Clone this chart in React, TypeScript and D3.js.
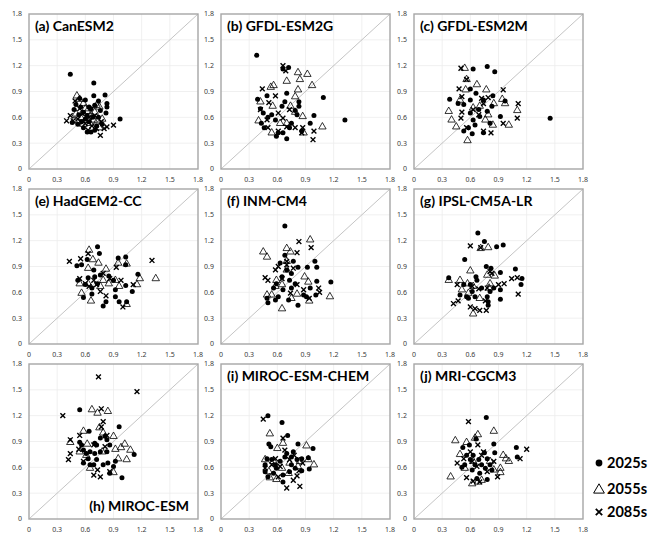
import * as d3 from 'd3';

type Pt = [number, number];

const models = [
  '(a) CanESM2', '(b) GFDL-ESM2G', '(c) GFDL-ESM2M',
  '(e) HadGEM2-CC', '(f) INM-CM4', '(g) IPSL-CM5A-LR',
  '(h) MIROC-ESM', '(i) MIROC-ESM-CHEM', '(j) MRI-CGCM3'
];

const ticks = [0, 0.3, 0.6, 0.9, 1.2, 1.5, 1.8];
const tickLabels = ['0', '0.3', '0.6', '0.9', '1.2', '1.5', '1.8'];

const periods = ['2025s', '2055s', '2085s'];

// one list of points per model, same order as `models`
const pts2025: Pt[][] = [
  [[0.44,1.10],[0.69,1.00],[0.69,0.85],[0.81,0.86],[0.97,0.58],[0.83,0.76],[0.83,0.72],[0.82,0.65],[0.48,0.69],[0.50,0.75],[0.53,0.63],[0.55,0.72],[0.58,0.66],[0.60,0.58],[0.62,0.62],[0.64,0.55],[0.66,0.70],[0.70,0.74],[0.74,0.79],[0.76,0.68],[0.58,0.48],[0.62,0.43],[0.66,0.43],[0.70,0.45],[0.72,0.50],[0.56,0.55],[0.46,0.54],[0.52,0.52],[0.60,0.80],[0.68,0.60],[0.74,0.60],[0.78,0.52],[0.64,0.72],[0.54,0.82]],
  [[0.38,1.32],[0.72,1.18],[0.66,1.16],[1.09,0.83],[1.32,0.57],[0.99,0.62],[0.83,0.78],[0.83,0.73],[0.70,0.88],[0.39,0.81],[0.49,0.85],[0.70,0.35],[0.59,0.38],[0.61,0.42],[0.66,0.42],[0.46,0.48],[0.43,0.53],[0.50,0.60],[0.54,0.63],[0.65,0.73],[0.68,0.78],[0.75,0.53],[0.81,0.63],[0.86,0.44],[0.95,0.53],[0.73,0.48],[0.42,0.70],[0.45,0.65],[0.79,0.68],[0.58,0.57]],
  [[0.78,1.19],[0.86,1.13],[0.63,1.16],[1.45,0.59],[0.38,0.81],[0.60,0.93],[0.66,0.88],[0.97,0.79],[0.92,0.61],[0.84,0.85],[0.81,0.53],[0.74,0.42],[0.62,0.41],[0.53,0.44],[0.58,0.48],[0.63,0.57],[0.60,0.65],[0.69,0.69],[0.53,0.75],[0.47,0.76],[0.74,0.80],[0.78,0.67],[0.83,0.73],[0.65,0.51],[0.70,0.61],[0.60,0.80]],
  [[0.73,1.13],[0.75,1.05],[0.62,0.98],[0.51,0.91],[0.56,0.92],[0.95,1.00],[1.03,1.01],[1.03,0.92],[1.16,0.81],[1.10,0.61],[1.03,0.68],[1.04,0.49],[0.92,0.55],[0.96,0.49],[0.82,0.49],[0.79,0.44],[0.67,0.58],[0.58,0.54],[0.52,0.74],[0.63,0.77],[0.70,0.78],[0.76,0.80],[0.85,0.79],[0.90,0.74],[0.69,0.86],[0.73,0.70],[0.60,0.69],[0.92,0.63],[0.67,0.65]],
  [[0.68,1.37],[0.68,1.03],[0.77,0.96],[1.00,0.96],[1.02,0.89],[0.92,0.89],[0.82,0.89],[1.17,0.72],[1.02,0.73],[0.95,0.65],[1.01,0.57],[0.91,0.55],[0.82,0.45],[0.72,0.51],[0.61,0.55],[0.58,0.51],[0.50,0.48],[0.49,0.53],[0.56,0.65],[0.59,0.70],[0.65,0.78],[0.75,0.82],[0.63,0.94],[0.70,0.86],[0.79,0.70],[0.88,0.57],[0.75,0.65],[0.66,0.63],[0.73,0.74]],
  [[0.68,1.29],[0.75,1.19],[0.95,1.15],[0.88,1.13],[0.54,0.98],[0.37,0.77],[1.08,0.87],[1.15,0.76],[1.14,0.69],[0.92,0.83],[0.77,0.90],[0.82,0.88],[0.66,0.78],[0.67,0.74],[0.60,0.69],[0.62,0.61],[0.56,0.55],[0.49,0.57],[0.53,0.69],[0.81,0.61],[0.85,0.65],[0.92,0.63],[0.92,0.52],[0.79,0.49],[0.79,0.45],[0.65,0.55],[0.58,0.53],[0.72,0.65],[0.78,0.55]],
  [[0.54,1.27],[0.64,1.02],[0.96,1.07],[1.12,0.75],[0.99,0.48],[0.54,0.89],[0.56,0.86],[0.58,0.80],[0.65,0.78],[0.70,0.88],[0.72,0.86],[0.76,0.94],[0.81,0.96],[0.83,0.92],[0.86,0.86],[0.83,0.78],[0.76,0.78],[0.70,0.76],[0.63,0.70],[0.58,0.65],[0.65,0.63],[0.72,0.69],[0.79,0.63],[0.84,0.65],[0.92,0.67],[0.90,0.61],[0.86,0.53],[0.69,0.63],[0.61,0.76]],
  [[0.50,1.20],[0.65,1.12],[0.71,0.97],[0.51,0.87],[0.53,0.84],[0.82,0.87],[0.98,0.82],[0.93,0.71],[0.94,0.58],[0.86,0.56],[0.75,0.63],[0.73,0.55],[0.66,0.43],[0.66,0.51],[0.59,0.59],[0.56,0.53],[0.47,0.55],[0.47,0.63],[0.49,0.70],[0.54,0.69],[0.63,0.67],[0.68,0.72],[0.75,0.72],[0.81,0.69],[0.77,0.78],[0.70,0.76],[0.58,0.63],[0.79,0.59],[0.86,0.70],[0.50,0.49]],
  [[0.77,1.18],[0.66,0.93],[0.85,0.87],[0.52,0.83],[0.59,0.86],[1.09,0.83],[0.86,0.77],[0.75,0.77],[1.10,0.72],[0.78,0.46],[0.67,0.47],[0.54,0.63],[0.51,0.60],[0.60,0.69],[0.63,0.74],[0.69,0.69],[0.72,0.63],[0.76,0.59],[0.81,0.63],[0.65,0.63],[0.62,0.57],[0.70,0.53],[0.56,0.74],[0.78,0.70],[0.83,0.57]]
];

const pts2055: Pt[][] = [
  [[0.51,0.85],[0.54,0.81],[0.58,0.76],[0.72,0.74],[0.75,0.72],[0.50,0.64],[0.55,0.60],[0.62,0.67],[0.69,0.57],[0.73,0.56],[0.75,0.48],[0.65,0.53],[0.58,0.52],[0.48,0.56],[0.66,0.63],[0.60,0.70],[0.78,0.58],[0.70,0.66]],
  [[0.82,1.12],[0.92,1.10],[0.84,1.04],[0.70,1.02],[0.97,0.97],[0.79,0.84],[0.82,0.92],[0.56,0.97],[0.53,0.95],[0.42,0.78],[0.55,0.73],[0.74,0.73],[0.79,0.66],[0.87,0.61],[1.08,0.49],[0.88,0.42],[0.54,0.42],[0.63,0.53],[0.40,0.56],[0.70,0.53]],
  [[0.54,1.17],[0.56,1.04],[0.67,0.98],[0.77,0.92],[0.55,0.92],[0.37,0.67],[0.40,0.57],[0.45,0.49],[0.57,0.33],[0.84,0.51],[1.01,0.51],[1.10,0.68],[0.94,0.81],[0.85,0.76],[0.97,0.76],[0.76,0.57],[0.63,0.71],[0.79,0.63],[0.49,0.80],[0.70,0.73]],
  [[0.64,1.09],[0.68,0.98],[0.74,0.94],[0.63,0.88],[0.95,0.94],[1.04,0.93],[1.18,0.76],[1.35,0.76],[1.15,0.69],[0.96,0.67],[0.82,0.87],[0.66,0.50],[0.56,0.59],[0.54,0.70],[0.63,0.70],[0.76,0.67],[0.85,0.70],[0.92,0.74],[0.79,0.74],[1.04,0.46]],
  [[0.95,1.21],[0.45,1.07],[0.49,1.01],[0.70,1.11],[0.74,1.07],[0.70,0.96],[0.70,0.86],[0.89,0.78],[0.93,0.72],[1.16,0.55],[0.81,0.58],[0.65,0.41],[0.54,0.57],[0.49,0.57],[0.59,0.74],[0.65,0.69],[0.94,0.50],[0.75,0.53],[0.58,0.67]],
  [[0.79,1.12],[0.71,1.11],[0.60,0.85],[0.37,0.74],[0.49,0.74],[0.57,0.70],[0.63,0.67],[0.78,0.80],[0.81,0.70],[0.86,0.79],[0.63,0.35],[0.70,0.53],[0.51,0.63],[0.80,0.65],[0.58,0.59]],
  [[0.67,1.27],[0.73,1.23],[0.84,1.25],[0.58,1.02],[0.75,1.06],[0.79,1.00],[0.90,0.96],[0.44,0.89],[1.02,0.87],[0.98,0.83],[0.92,0.81],[1.08,0.80],[1.04,0.69],[0.95,0.70],[0.62,0.87],[0.54,0.78],[0.61,0.74],[0.78,0.78],[0.65,0.59],[0.90,0.54]],
  [[0.52,0.99],[0.66,0.88],[0.60,0.82],[0.91,0.85],[0.93,0.69],[0.99,0.63],[0.84,0.67],[0.56,0.67],[0.51,0.55],[0.52,0.48],[0.59,0.46],[0.65,0.59],[0.72,0.53],[0.82,0.61],[0.47,0.69],[0.73,0.65]],
  [[0.85,1.02],[0.68,0.98],[0.65,0.94],[0.44,0.91],[0.56,0.89],[0.39,0.49],[0.95,0.74],[0.98,0.70],[1.01,0.67],[0.92,0.59],[0.92,0.54],[0.85,0.57],[0.68,0.43],[0.62,0.41],[0.72,0.45],[0.49,0.75],[0.54,0.59],[0.63,0.67],[0.81,0.67]]
];

const pts2085: Pt[][] = [
  [[0.40,0.56],[0.47,0.56],[0.49,0.79],[0.76,0.39],[0.83,0.49],[0.90,0.51],[0.80,0.47],[0.72,0.47],[0.63,0.45],[0.57,0.64],[0.52,0.58],[0.67,0.50],[0.60,0.53],[0.70,0.62],[0.54,0.70],[0.64,0.60],[0.77,0.55],[0.44,0.62]],
  [[0.66,1.20],[0.69,1.14],[0.44,0.93],[0.58,0.85],[0.51,0.77],[0.42,0.69],[0.49,0.57],[0.50,0.48],[0.61,0.44],[0.70,0.49],[0.79,0.48],[0.87,0.48],[0.99,0.44],[0.98,0.34],[0.61,0.65],[0.66,0.59],[0.86,0.42],[0.73,0.69]],
  [[0.50,1.17],[0.56,1.04],[0.48,0.93],[0.51,0.84],[0.95,0.92],[1.11,0.76],[1.10,0.59],[0.95,0.53],[0.82,0.42],[0.74,0.44],[0.56,0.48],[0.50,0.59],[0.51,0.66],[0.72,0.82],[0.79,0.83],[0.74,0.76],[0.63,0.69],[0.69,0.63]],
  [[0.43,0.96],[0.55,0.99],[0.63,1.05],[0.93,0.89],[1.31,0.97],[1.11,0.69],[1.00,0.43],[0.82,0.56],[0.76,0.61],[0.54,0.76],[0.60,0.70],[0.72,0.69],[0.86,0.76],[0.79,0.82],[0.98,0.74],[0.69,0.74],[0.64,0.67]],
  [[0.83,1.19],[0.96,1.12],[0.81,1.06],[0.58,0.86],[0.61,0.90],[0.70,0.96],[0.70,0.92],[0.47,0.77],[0.50,0.74],[0.81,0.69],[0.88,0.63],[1.04,0.65],[1.05,0.60],[0.94,0.53],[0.74,0.59],[0.65,0.76],[0.77,0.88]],
  [[0.60,1.14],[0.71,1.12],[0.46,0.69],[0.42,0.47],[0.47,0.50],[0.60,0.43],[0.65,0.41],[0.70,0.39],[0.77,0.39],[0.83,0.82],[0.81,0.84],[0.90,0.69],[0.96,0.70],[1.04,0.76],[1.10,0.77],[1.11,0.58],[0.78,0.65],[0.69,0.64],[0.62,0.67],[0.76,0.50]],
  [[0.74,1.65],[1.15,1.48],[0.36,1.20],[0.44,0.92],[0.44,0.76],[0.42,0.69],[0.54,0.97],[0.53,0.81],[0.77,1.28],[0.79,1.13],[0.77,1.07],[0.83,0.97],[0.69,0.51],[0.76,0.49],[0.73,0.57],[0.58,0.67],[0.86,0.55],[0.81,0.84],[0.69,0.86]],
  [[0.45,1.16],[0.66,0.94],[0.68,0.80],[0.70,0.36],[0.84,0.38],[0.77,0.45],[0.83,0.56],[0.87,0.65],[0.78,0.74],[0.63,0.61],[0.47,0.59],[0.54,0.63],[0.58,0.70],[0.73,0.69],[0.81,0.50],[0.61,0.49]],
  [[0.58,1.13],[0.68,0.86],[1.20,0.81],[1.13,0.70],[0.46,0.65],[0.56,0.48],[0.63,0.44],[0.70,0.43],[0.89,0.49],[0.85,0.67],[0.74,0.78],[0.60,0.78],[0.53,0.70],[0.67,0.61],[0.78,0.55],[0.72,0.74],[0.62,0.67]]
];

const colLeft = [29, 221, 414];
const rowTop = [14, 189, 364];
const pw = 169;
const ph = 155;
const tickFont = '"Noto Sans", sans-serif';
const titleFont = 'Lato, "Open Sans", sans-serif';

const x = d3.scaleLinear().domain([0, 1.8]).range([0, pw]);
const y = d3.scaleLinear().domain([0, 1.8]).range([ph, 0]);

const triPath = d3.symbol().type(d3.symbolTriangle).size(24)() as string;

function Cross({ cx, cy, r = 2.4, w = 1.4 }: { cx: number; cy: number; r?: number; w?: number }) {
  return (
    <path
      d={`M${cx - r},${cy - r}L${cx + r},${cy + r}M${cx - r},${cy + r}L${cx + r},${cy - r}`}
      stroke="#000"
      strokeWidth={w}
    />
  );
}

function Panel({ i }: { i: number }) {
  const left = colLeft[i % 3];
  const top = rowTop[Math.floor(i / 3)];
  const bottomTitle = i === 6;
  return (
    <g transform={`translate(${left},${top})`}>
      {ticks.slice(1, -1).map((t) => (
        <g key={t}>
          <line x1={x(t)} x2={x(t)} y1={0} y2={ph} stroke="#ececec" strokeWidth={0.8} />
          <line x1={0} x2={pw} y1={y(t)} y2={y(t)} stroke="#ececec" strokeWidth={0.8} />
        </g>
      ))}
      <line x1={x(0)} y1={y(0)} x2={x(1.8)} y2={y(1.8)} stroke="#bdbdbd" strokeWidth={0.9} />
      <rect x={0} y={0} width={pw} height={ph} fill="none" stroke="#a6a6a6" strokeWidth={1.4} />
      {ticks.map((t, k) => (
        <text
          key={'y' + t}
          x={-7}
          y={y(t)}
          dy="0.35em"
          textAnchor="end"
          fontSize={7}
          fontFamily={tickFont}
          fill="#3a3a3a"
        >
          {tickLabels[k]}
        </text>
      ))}
      {ticks.map((t, k) => (
        <text
          key={'x' + t}
          x={x(t)}
          y={ph + 13}
          textAnchor="middle"
          fontSize={7}
          fontFamily={tickFont}
          fill="#3a3a3a"
        >
          {tickLabels[k]}
        </text>
      ))}
      {pts2025[i].map((p, k) => (
        <circle key={'c' + k} cx={x(p[0])} cy={y(p[1])} r={2.5} fill="#000" />
      ))}
      {pts2055[i].map((p, k) => (
        <path
          key={'t' + k}
          d={triPath}
          transform={`translate(${x(p[0])},${y(p[1])})`}
          fill="none"
          stroke="#000"
          strokeWidth={0.8}
        />
      ))}
      {pts2085[i].map((p, k) => (
        <Cross key={'x' + k} cx={x(p[0])} cy={y(p[1])} />
      ))}
      <text
        x={bottomTitle ? pw - 9 : 6}
        y={bottomTitle ? ph - 8 : 17}
        textAnchor={bottomTitle ? 'end' : 'start'}
        fontSize={14}
        fontWeight="bold"
        fontFamily={titleFont}
        fill="#000"
      >
        {models[i]}
      </text>
    </g>
  );
}

function Legend() {
  const lx = 599;
  const ly = [463, 489, 512];
  return (
    <g>
      <circle cx={lx} cy={ly[0]} r={3.4} fill="#000" />
      <path
        d={d3.symbol().type(d3.symbolTriangle).size(50)() as string}
        transform={`translate(${lx},${ly[1] + 1})`}
        fill="none"
        stroke="#000"
        strokeWidth={1}
      />
      <Cross cx={lx} cy={ly[2]} r={3.2} w={1.8} />
      {periods.map((p, k) => (
        <text
          key={p}
          x={lx + 8}
          y={ly[k]}
          dy="0.36em"
          fontSize={14.5}
          fontWeight="bold"
          fontFamily={titleFont}
          fill="#000"
        >
          {p}
        </text>
      ))}
    </g>
  );
}

export default function App() {
  return (
    <svg
      width={669}
      height={536}
      style={{ position: 'absolute', left: 0, top: 0, background: '#fff' }}
    >
      {models.map((m, i) => (
        <Panel key={m} i={i} />
      ))}
      <Legend />
    </svg>
  );
}
